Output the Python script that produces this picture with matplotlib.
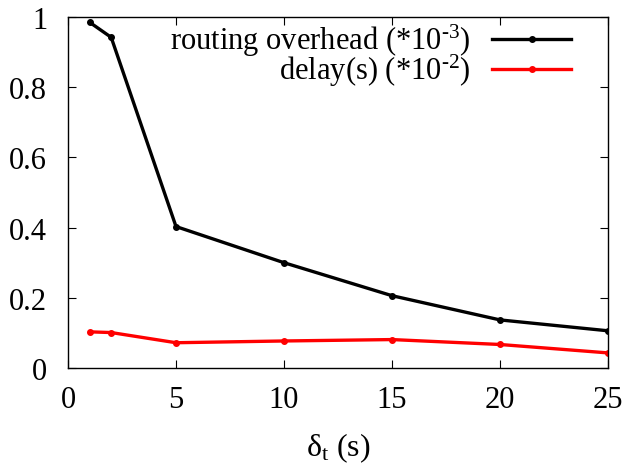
import matplotlib
matplotlib.use("Agg")
import matplotlib.pyplot as plt

x = [1, 2, 5, 10, 15, 20, 25]
overhead = [0.985, 0.942, 0.403, 0.300, 0.206, 0.137, 0.106]
delay = [0.103, 0.101, 0.072, 0.077, 0.081, 0.067, 0.043]
xticks = [0, 5, 10, 15, 20, 25]
yticks = [0, 0.2, 0.4, 0.6, 0.8, 1]
ytick_labels = ["0", "0.2", "0.4", "0.6", "0.8", "1"]
labels = ["routing overhead (*10$^{\u20103}$)", "delay(s) (*10$^{\u20102}$)"]

plt.rcParams['font.family'] = ['Liberation Serif', 'DejaVu Serif']
plt.rcParams['mathtext.fontset'] = 'custom'
plt.rcParams['mathtext.rm'] = 'Liberation Serif'
plt.rcParams['mathtext.it'] = 'Liberation Serif:italic'

fig = plt.figure(figsize=(6.29, 4.64), dpi=100)
ax = fig.add_axes([68/629, 1-369/464, (608-68)/629, (369-18)/464])

ax.plot(x, overhead, color='black', lw=2.4, marker='o', ms=4, label=labels[0])
ax.plot(x, delay, color='#ff0000', lw=2.4, marker='o', ms=4, label=labels[1])

ax.set_xlim(0, 25)
ax.set_ylim(0, 1)
ax.set_xticks(xticks)
ax.set_xticklabels([str(t) for t in xticks])
ax.set_yticks(yticks)
ax.set_yticklabels(ytick_labels)
ax.tick_params(direction='in', top=True, right=True, length=6, width=0.8,
               labelsize=22)
ax.tick_params(axis='x', pad=12)
ax.tick_params(axis='y', pad=15)
for s in ax.spines.values():
    s.set_linewidth(1.0)

ax.set_xlabel('δ$_{\\rm t}$ (s)', fontsize=23, labelpad=12)

leg = ax.legend(loc='upper right', frameon=False, markerfirst=False,
                fontsize=22, handlelength=2.6, handletextpad=0.7,
                labelspacing=-0.2, borderaxespad=0.0,
                bbox_to_anchor=(0.955, 1.02))

fig.savefig('out.png', dpi=100)
